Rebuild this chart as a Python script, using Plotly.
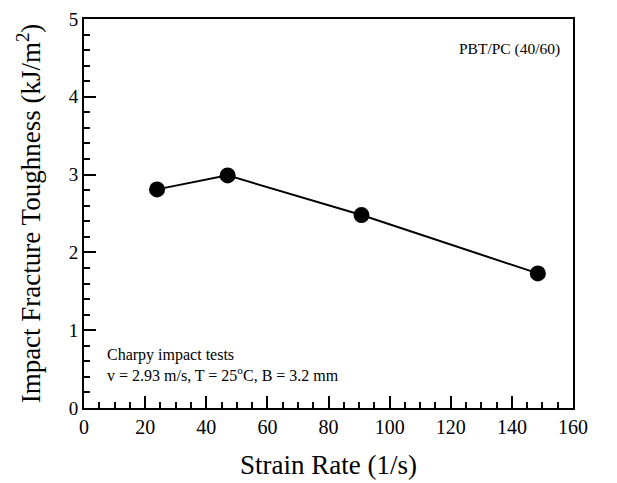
import plotly.graph_objects as go

strain_rate = [23.9, 47.0, 90.8, 148.5]
toughness = [2.81, 2.99, 2.48, 1.73]

x_ticks = [0, 20, 40, 60, 80, 100, 120, 140, 160]
y_ticks = [0, 1, 2, 3, 4, 5]

FONT = "Liberation Serif"

fig = go.Figure()
fig.add_trace(go.Scatter(
    x=strain_rate, y=toughness, mode="lines+markers",
    line=dict(color="black", width=2),
    marker=dict(color="black", size=16, symbol="circle"),
    showlegend=False,
))

fig.update_layout(
    width=617, height=483,
    margin=dict(l=76, r=52, t=11, b=83),
    paper_bgcolor="white", plot_bgcolor="white",
    font=dict(family=FONT, color="black"),
    xaxis=dict(
        range=[0, 160], tickvals=x_ticks, ticktext=[str(v) for v in x_ticks],
        ticks="inside", ticklen=12, tickwidth=1.5, tickcolor="black",
        showline=True, linewidth=2, linecolor="black", mirror=True,
        showgrid=False, zeroline=False, automargin=False, ticklabeloverflow="allow",
        tickfont=dict(size=20, family=FONT),
        minor=dict(dtick=5, ticks="inside", ticklen=6, tickwidth=1.5, tickcolor="black", showgrid=False),
        title=dict(text="Strain Rate (1/s)", font=dict(size=27, family=FONT), standoff=18),
    ),
    yaxis=dict(
        range=[0, 5], tickvals=y_ticks, ticktext=[str(v) for v in y_ticks],
        ticks="inside", ticklen=12, tickwidth=1.5, tickcolor="black",
        showline=True, linewidth=2, linecolor="black", mirror=True,
        showgrid=False, zeroline=False, automargin=False, ticklabeloverflow="allow",
        tickfont=dict(size=19, family=FONT),
        minor=dict(dtick=0.2, ticks="inside", ticklen=6, tickwidth=1.5, tickcolor="black", showgrid=False),
        title=dict(text="Impact Fracture Toughness (kJ/m<sup>2</sup>)", font=dict(size=27, family=FONT), standoff=20),
    ),
    annotations=[
        dict(text="PBT/PC (40/60)", x=0.871, y=0.923, xref="paper", yref="paper",
             showarrow=False, font=dict(size=15.5, family=FONT), xanchor="center", yanchor="middle"),
        dict(text="Charpy impact tests<br>v = 2.93 m/s, T = 25<sup>o</sup>C, B = 3.2 mm", x=0.043, y=0.11,
             xref="paper", yref="paper", showarrow=False, align="left",
             font=dict(size=16, family=FONT), xanchor="left", yanchor="middle"),
    ],
)

fig.write_html("out.html")
